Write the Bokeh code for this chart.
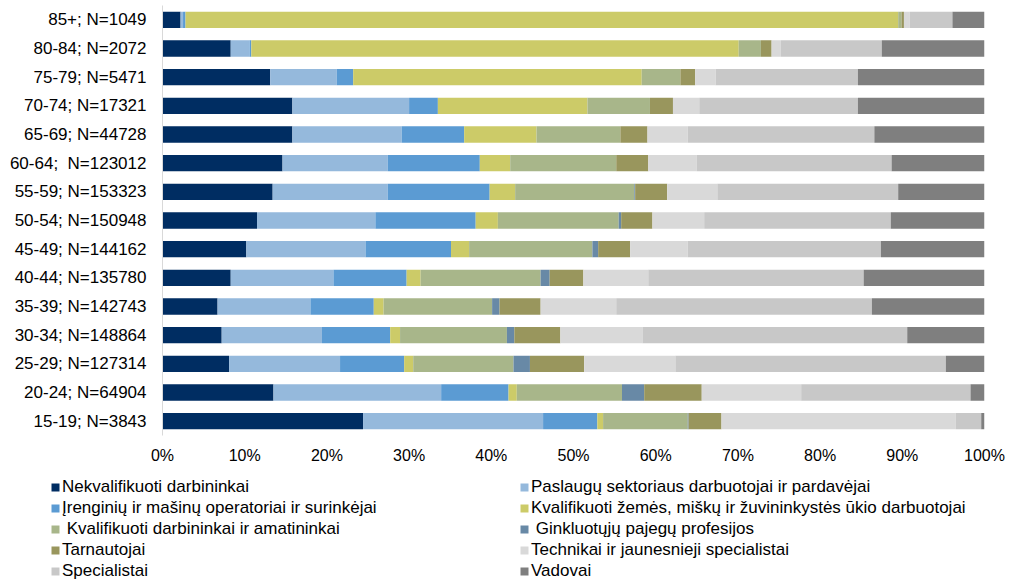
from bokeh.plotting import figure
from bokeh.layouts import column
from bokeh.models import ColumnDataSource, FactorRange, Range1d, FixedTicker, PrintfTickFormatter, Legend, LegendItem
from bokeh.embed import file_html
from bokeh.resources import INLINE

ages = ["85+; N=1049", "80-84; N=2072", "75-79; N=5471", "70-74; N=17321",
        "65-69; N=44728", "60-64;\u00a0 N=123012", "55-59; N=153323", "50-54; N=150948",
        "45-49; N=144162", "40-44; N=135780", "35-39; N=142743", "30-34; N=148864",
        "25-29; N=127314", "20-24; N=64904", "15-19; N=3843"]

labels = ["Nekvalifikuoti darbininkai",
          "Paslaugų sektoriaus darbuotojai ir pardavėjai",
          "Įrenginių ir mašinų operatoriai ir surinkėjai",
          "Kvalifikuoti žemės, miškų ir žuvininkystės ūkio darbuotojai",
          "\u00a0Kvalifikuoti darbininkai ir amatininkai",
          "\u00a0Ginkluotųjų pajegų profesijos",
          "Tarnautojai",
          "Technikai ir jaunesnieji specialistai",
          "Specialistai",
          "Vadovai"]

nekvalifikuoti = [2.2, 8.3, 13.1, 15.8, 15.8, 14.6, 13.4, 11.5, 10.2, 8.3, 6.7, 7.2, 8.1, 13.5, 24.4]
paslaugu = [0.3, 2.3, 8.1, 14.2, 13.3, 12.8, 14.0, 14.4, 14.5, 12.5, 11.3, 12.2, 13.5, 20.4, 21.9]
irenginiu = [0.3, 0.2, 2.0, 3.5, 7.6, 11.2, 12.4, 12.2, 10.4, 8.9, 7.7, 8.3, 7.8, 8.2, 6.6]
zemes = [86.7, 59.3, 35.1, 18.2, 8.8, 3.7, 3.1, 2.7, 2.2, 1.7, 1.2, 1.2, 1.1, 1.0, 0.7]
darbininkai = [0.4, 2.7, 4.7, 7.6, 10.2, 12.9, 14.5, 14.7, 15.0, 14.6, 13.2, 13.0, 12.2, 12.8, 10.3]
ginkluotuju = [0.0, 0.0, 0.0, 0.0, 0.0, 0.0, 0.1, 0.3, 0.7, 1.1, 0.9, 0.9, 2.0, 2.7, 0.1]
tarnautojai = [0.3, 1.3, 1.8, 2.8, 3.3, 3.9, 3.9, 3.8, 3.9, 4.1, 5.0, 5.6, 6.6, 7.0, 4.0]
technikai = [0.7, 1.1, 2.5, 3.2, 4.9, 5.9, 6.1, 6.3, 7.0, 7.9, 9.2, 10.0, 11.1, 12.1, 28.5]
specialistai = [5.2, 12.3, 17.3, 19.3, 22.7, 23.7, 22.0, 22.7, 23.5, 26.2, 31.1, 32.2, 32.9, 20.6, 3.1]
vadovai = [3.9, 12.5, 15.4, 15.4, 13.4, 11.3, 10.5, 11.4, 12.6, 14.7, 13.7, 9.4, 4.7, 1.7, 0.4]

colors = ["#002D62", "#95B9DC", "#5B9BD3", "#CCCB68", "#A8B68A",
          "#6889A6", "#99965D", "#D9D9D9", "#C8C8C8", "#7F7F7F"]

x_ticks = [0, 10, 20, 30, 40, 50, 60, 70, 80, 90, 100]

series = [nekvalifikuoti, paslaugu, irenginiu, zemes, darbininkai,
          ginkluotuju, tarnautojai, technikai, specialistai, vadovai]
keys = ["s%d" % i for i in range(len(series))]
data = {"age": ages}
for k, s in zip(keys, series):
    data[k] = s
source = ColumnDataSource(data)

FONT = "Liberation Sans"

# ---- main chart ----
p = figure(width=1011, height=470,
           y_range=FactorRange(factors=list(reversed(ages)), range_padding=0),
           x_range=Range1d(0, 100),
           output_backend="svg", toolbar_location=None,
           min_border_left=162, min_border_right=27, min_border_top=5, min_border_bottom=35)
p.frame_align = False
p.outline_line_color = None
p.xgrid.visible = False
p.ygrid.visible = False

rs = p.hbar_stack(keys, y="age", height=0.57, color=colors, line_color=None, source=source)

xa = p.xaxis[0]
xa.ticker = FixedTicker(ticks=x_ticks)
xa.formatter = PrintfTickFormatter(format="%d%%")
xa.axis_line_color = None
xa.major_tick_line_color = None
xa.minor_tick_line_color = None
xa.major_tick_out = 0
xa.major_tick_in = 0
xa.major_label_text_font = FONT
xa.major_label_text_font_size = "16px"
xa.major_label_text_color = "#000000"
xa.major_label_standoff = 11

ya = p.yaxis[0]
ya.axis_line_color = "#D9D9D9"
ya.axis_line_width = 1
ya.major_tick_line_color = None
ya.minor_tick_line_color = None
ya.major_tick_out = 0
ya.major_tick_in = 0
ya.major_label_text_font = FONT
ya.major_label_text_font_size = "17px"
ya.major_label_text_color = "#000000"
ya.major_label_standoff = 16

# ---- legend strip (same series, renderers hidden; only the legend shows) ----
pl = figure(width=1011, height=111,
            y_range=FactorRange(factors=list(reversed(ages))), x_range=Range1d(0, 100),
            x_axis_type=None, y_axis_type=None,
            output_backend="svg", toolbar_location=None,
            min_border_left=0, min_border_right=0, min_border_top=0, min_border_bottom=0)
pl.frame_align = False
pl.outline_line_color = None
pl.xgrid.visible = False
pl.ygrid.visible = False

swatches = pl.hbar_stack(keys, y="age", height=0.57, color=colors, line_color=None,
                         source=source, visible=False)

order = [0, 2, 4, 6, 8, 1, 3, 5, 7, 9]
legend = Legend(items=[LegendItem(label=labels[i], renderers=[swatches[i]]) for i in order],
                ncols=2, orientation="vertical", location=(50, 0),
                glyph_width=10, glyph_height=10, label_standoff=2,
                label_width=457, label_height=21, spacing=0, padding=0, margin=0,
                border_line_color=None, background_fill_alpha=0,
                inactive_fill_alpha=0,
                label_text_font=FONT, label_text_font_size="17px",
                label_text_color="#000000")
pl.add_layout(legend)

layout = column(p, pl, spacing=0)
open("out.html", "w").write(file_html(layout, INLINE))
